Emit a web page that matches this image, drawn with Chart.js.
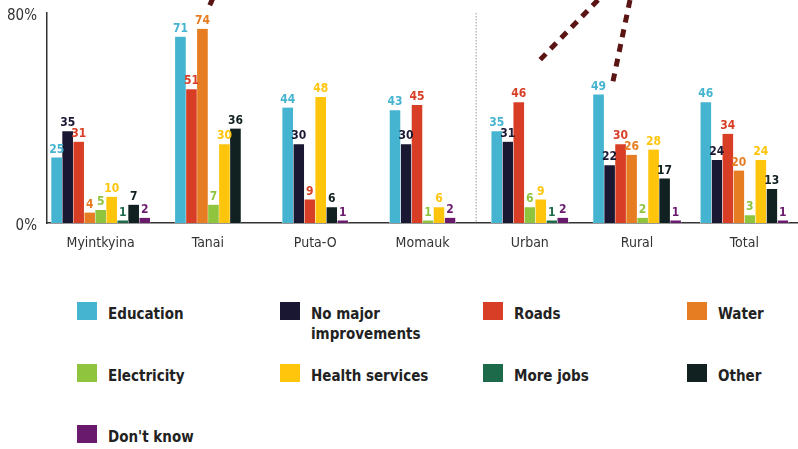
<!DOCTYPE html>
<html>
<head>
<meta charset="utf-8">
<script src="https://cdn.jsdelivr.net/npm/chart.js@4"></script>
<style>
    body { margin: 0; background: #fff; width: 798px; height: 449px; overflow: hidden; position: relative; }
    #chart-wrap { position: absolute; left: 0; top: 0; width: 798px; height: 262px; }
    .legend-item { position: absolute; display: flex; align-items: flex-start; }
    .legend-item .swatch { width: 20px; height: 18px; margin-right: 11px; flex: none; }
    .legend-item .text {
        font-family: 'Liberation Sans Narrow', 'DejaVu Sans Condensed', 'Roboto', sans-serif;
        font-weight: bold; font-size: 15px; line-height: 20px; color: #222; max-width: 125px;
        margin-top: 2px;
    }
</style>
</head>
<body>
<div id="chart-wrap"><canvas id="improvementsChart"></canvas></div>
<div id="legend"></div>
<script>
const FONT = "'Liberation Sans Narrow', 'DejaVu Sans Condensed', 'Roboto', sans-serif";

const categories = ['Myintkyina', 'Tanai', 'Puta-O', 'Momauk', 'Urban', 'Rural', 'Total'];
const yTicks = [0, 80];

// null = no bar shown for that group
const education = [25, 71, 44, 43, 35, 49, 46];
const noMajor = [35, null, 30, 30, 31, 22, 24];
const roads = [31, 51, 9, 45, 46, 30, 34];
const water = [4, 74, null, null, null, 26, 20];
const electricity = [5, 7, null, 1, 6, 2, 3];
const health = [10, 30, 48, 6, 9, 28, 24];
const moreJobs = [1, null, null, null, 1, null, null];
const other = [7, 36, 6, null, null, 17, 13];
const dontKnow = [2, null, 1, 2, 2, 1, 1];

const seriesNames = ['Education', 'No major improvements', 'Roads', 'Water', 'Electricity',
    'Health services', 'More jobs', 'Other', "Don't know"];
const seriesValues = [education, noMajor, roads, water, electricity, health, moreJobs, other, dontKnow];
const seriesColors = ['#45b4d0', '#191731', '#d83e26', '#e67d22', '#8fc43e',
    '#ffc50d', '#1d6a4b', '#112020', '#6a1a6c'];

// value labels above each bar
const barLabels = {
    id: 'barLabels',
    afterDatasetsDraw(chart) {
        const ctx = chart.ctx;
        ctx.save();
        ctx.font = 'bold 12px ' + FONT;
        ctx.textAlign = 'center';
        ctx.textBaseline = 'bottom';
        chart.data.datasets.forEach((ds, i) => {
            const meta = chart.getDatasetMeta(i);
            meta.data.forEach((bar, j) => {
                const v = ds.data[j];
                if (v === null || v === undefined) return;
                ctx.fillStyle = ds.backgroundColor;
                ctx.fillText(v, bar.x, bar.y - 2);
            });
        });
        ctx.restore();
    }
};

// dotted divider between districts and urban/rural, plus the dashed marks at the top
const extras = {
    id: 'extras',
    beforeDatasetsDraw(chart) {
        const ctx = chart.ctx;
        const x = chart.scales.x;
        const area = chart.chartArea;
        const sepX = (x.getPixelForValue(3) + x.getPixelForValue(4)) / 2;
        ctx.save();
        ctx.strokeStyle = '#9a9a9a';
        ctx.lineWidth = 1;
        ctx.setLineDash([1.5, 1.5]);
        ctx.beginPath();
        ctx.moveTo(sepX, area.top);
        ctx.lineTo(sepX, area.bottom);
        ctx.stroke();

        ctx.strokeStyle = '#5a1414';
        ctx.lineWidth = 5;
        ctx.setLineDash([8, 7]);
        [[[598, 0], [537, 63]], [[630, 0], [612, 86]], [[213, -2], [209, 7]]].forEach(seg => {
            ctx.beginPath();
            ctx.moveTo(seg[0][0], seg[0][1]);
            ctx.lineTo(seg[1][0], seg[1][1]);
            ctx.stroke();
        });
        ctx.restore();
    }
};

new Chart(document.getElementById('improvementsChart'), {
    type: 'bar',
    data: {
        labels: categories,
        datasets: seriesNames.map((name, i) => ({
            label: name,
            data: seriesValues[i],
            backgroundColor: seriesColors[i],
            borderColor: '#ffffff',
            borderWidth: { left: 0.5, right: 0.5, top: 0, bottom: 0 },
            barThickness: 11,
            skipNull: true
        }))
    },
    options: {
        responsive: true,
        maintainAspectRatio: false,
        animation: false,
        layout: { padding: { top: 13, right: 0, left: 0, bottom: 0 } },
        plugins: { legend: { display: false }, tooltip: { enabled: false } },
        scales: {
            x: {
                grid: { display: false, drawTicks: false },
                border: { display: true, color: '#333', width: 1.5 },
                ticks: { color: '#333', padding: 12, font: { family: FONT, size: 14 } },
                afterFit: s => { s.height = 39; }
            },
            y: {
                min: 0,
                max: 80,
                afterBuildTicks: s => { s.ticks = yTicks.map(v => ({ value: v })); },
                grid: { display: false, drawTicks: false },
                border: { display: true, color: '#333', width: 1.5 },
                ticks: {
                    color: '#333', padding: 10, labelOffset: 3, font: { family: FONT, size: 15 },
                    callback: v => v + '%'
                },
                afterFit: s => { s.width = 47; s.paddingTop = 0; s.paddingBottom = 0; }
            }
        }
    },
    plugins: [barLabels, extras]
});

// legend: 4 columns, built from the series arrays
const legendEl = document.getElementById('legend');
const colX = [77, 280, 483, 687];
const rowY = [302, 364, 425];
seriesNames.forEach((name, i) => {
    const item = document.createElement('div');
    item.className = 'legend-item';
    item.style.left = colX[i % 4] + 'px';
    item.style.top = rowY[Math.floor(i / 4)] + 'px';
    item.innerHTML = `<span class="swatch" style="background:${seriesColors[i]}"></span><span class="text">${name}</span>`;
    legendEl.appendChild(item);
});
</script>
</body>
</html>
